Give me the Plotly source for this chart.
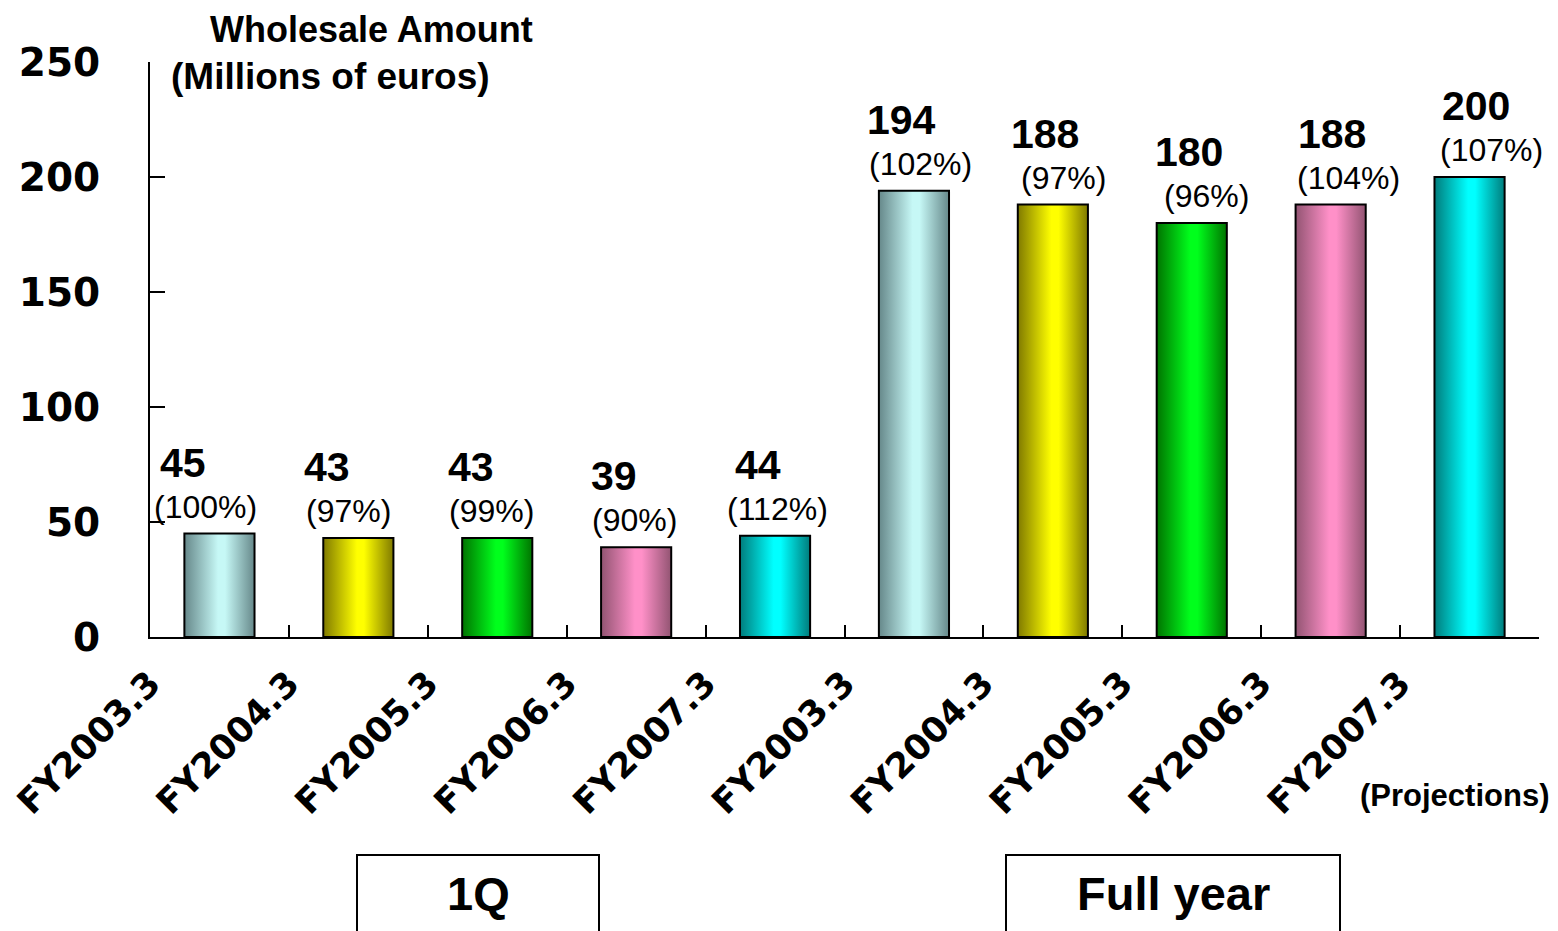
import plotly.graph_objects as go

# ---- data ----
categories = ["FY2003.3", "FY2004.3", "FY2005.3", "FY2006.3", "FY2007.3",
              "FY2003.3", "FY2004.3", "FY2005.3", "FY2006.3", "FY2007.3"]
values = [45, 43, 43, 39, 44, 194, 188, 180, 188, 200]
percents = ["(100%)", "(97%)", "(99%)", "(90%)", "(112%)",
            "(102%)", "(97%)", "(96%)", "(104%)", "(107%)"]
group_labels = ["1Q", "Full year"]
y_ticks = [0, 50, 100, 150, 200, 250]

# ---- styles ----
light_colors = ["#c6f8f6", "#ffff00", "#00ff1c", "#ff90c8", "#00ffff"] * 2
dark_colors = ["#66888a", "#807a00", "#007400", "#925472", "#007c7c"] * 2
BAR_W = 0.505
BOLD = "Liberation Sans"
HEAVY = "DejaVu Sans"

# page geometry (the page body has an 8px margin)
OFF = 8
PX0, PX1, PY_TOP, PY_ZERO = 150, 1539, 62, 637
PW, PH = PX1 - PX0, PY_ZERO - PY_TOP


def px(x):
    return (x - PX0) / PW


def py(y):
    return (PY_ZERO - y) / PH


fig = go.Figure()

for i, (v, lc, dc) in enumerate(zip(values, light_colors, dark_colors)):
    x0, x1 = i - BAR_W / 2, i + BAR_W / 2
    fig.add_trace(go.Scatter(
        x=[x0, x0, x1, x1, x0], y=[0, v, v, 0, 0],
        mode="lines", fill="toself",
        fillgradient=dict(type="horizontal",
                          colorscale=[[0, dc], [0.48, lc], [0.58, lc], [1, dc]]),
        line=dict(color="black", width=2),
        hoverinfo="skip", showlegend=False,
    ))

# value and percentage labels
for i, (v, p) in enumerate(zip(values, percents)):
    fig.add_annotation(x=i * 1.034 - 0.26, y=v, yshift=71, text=f"<b>{v}</b>",
                       showarrow=False, font=dict(family=BOLD, size=41, color="black"),
                       xanchor="center", yanchor="middle")
    fig.add_annotation(x=i * 1.029 - 0.10, y=v, yshift=27, text=p,
                       showarrow=False, font=dict(family=BOLD, size=32, color="black"),
                       xanchor="center", yanchor="middle")

# axis titles
fig.add_annotation(xref="paper", yref="paper", x=px(371), y=py(29),
                   text="<b>Wholesale Amount</b>", showarrow=False,
                   font=dict(family=BOLD, size=36, color="black"),
                   xanchor="center", yanchor="middle")
fig.add_annotation(xref="paper", yref="paper", x=px(330), y=py(77),
                   text="<b>(Millions of euros)</b>", showarrow=False,
                   font=dict(family=BOLD, size=37, color="black"),
                   xanchor="center", yanchor="middle")
fig.add_annotation(xref="paper", yref="paper", x=px(1454), y=py(795),
                   text="<b>(Projections)</b>", showarrow=False,
                   font=dict(family=BOLD, size=31, color="black"),
                   xanchor="center", yanchor="middle")

# group boxes
boxes = [(357, 599), (1006, 1340)]
for (bx0, bx1), g in zip(boxes, group_labels):
    fig.add_shape(type="rect", xref="paper", yref="paper",
                  x0=px(bx0), x1=px(bx1), y0=py(960), y1=py(855),
                  line=dict(color="black", width=2), fillcolor="rgba(0,0,0,0)")
    fig.add_annotation(xref="paper", yref="paper", x=px((bx0 + bx1) / 2),
                       y=py(893), text=f"<b>{g}</b>", showarrow=False,
                       font=dict(family=BOLD, size=47, color="black"),
                       xanchor="center", yanchor="middle")

tickvals = [i - 0.5 for i in range(len(categories) + 1)]
ticktext = categories + [""]

fig.update_layout(
    width=1558 - OFF, height=931 - OFF,
    margin=dict(l=PX0 - OFF, r=1558 - PX1, t=PY_TOP - OFF, b=931 - PY_ZERO),
    paper_bgcolor="white", plot_bgcolor="white",
    showlegend=False,
    xaxis=dict(range=[-0.5, len(categories) - 0.5], tickvals=tickvals, ticktext=ticktext,
               tickangle=-45, ticks="inside", ticklen=12, tickwidth=2, tickcolor="black",
               showline=True, linecolor="black", linewidth=2, showgrid=False, zeroline=False,
               ticklabeloverflow="allow", ticklabelstandoff=10, automargin=False,
               tickfont=dict(family=HEAVY, size=35, color="black", weight="bold"),
               fixedrange=True),
    yaxis=dict(range=[0, 250], tickvals=y_ticks, ticks="inside", ticklen=15, tickwidth=2,
               tickcolor="black", showline=True, linecolor="black", linewidth=2,
               showgrid=False, zeroline=False, ticklabelstandoff=40, automargin=False,
               tickfont=dict(family=HEAVY, size=39, color="black", weight="bold"),
               fixedrange=True),
)

fig.write_html("out.html")
